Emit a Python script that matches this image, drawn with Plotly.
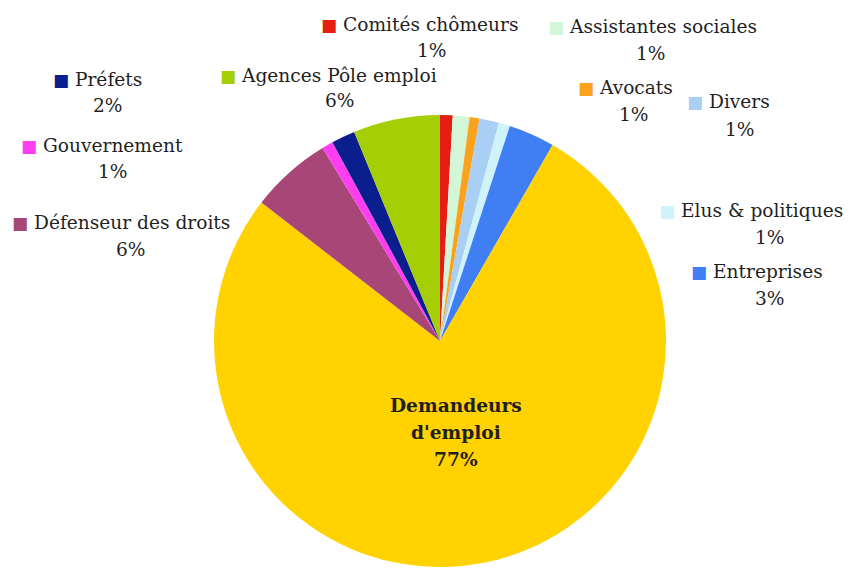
import plotly.graph_objects as go

# the page body has an 8px margin, so the figure is drawn offset by 8px
OFF = 8
W, H = 855 - OFF, 568 - OFF

labels = ["Comités chômeurs", "Assistantes sociales", "Avocats", "Divers",
          "Elus & politiques", "Entreprises", "Demandeurs d'emploi",
          "Défenseur des droits", "Gouvernement", "Préfets", "Agences Pôle emploi"]
values = [0.9, 1.2, 0.7, 1.4, 0.8, 3.3, 77.2, 5.8, 0.8, 1.7, 6.2]
colors = ["#E41E12", "#D3F5D8", "#FAA21B", "#A9CFF5", "#CFF3FA", "#3F7FF3",
          "#FFD200", "#A84677", "#FF3EF2", "#0B1E8E", "#A6CE05"]

# label layout (screen pixel positions): name line anchor (x, y, xanchor), percent centre (x, y)
label_pos = {
    "Comités chômeurs": (420, 24, "center", 432, 51),
    "Assistantes sociales": (652, 27, "center", 651, 53),
    "Avocats": (625, 88, "center", 634, 114),
    "Divers": (728, 102, "center", 740, 129),
    "Elus & politiques": (845, 210, "right", 770, 237),
    "Entreprises": (757, 271, "center", 770, 298),
    "Défenseur des droits": (121, 222, "center", 131, 249),
    "Gouvernement": (102, 145, "center", 113, 171),
    "Préfets": (97, 79, "center", 108, 105),
    "Agences Pôle emploi": (328, 75, "center", 340, 101),
}
center_label_x = 456
center_label_y = [405, 432, 459]

FONT = "DejaVu Serif"
FS = 18.6

def px(x):
    return (x - OFF) / W

def py(y):
    return 1 - (y - OFF) / H

total = sum(values)
pcts = [round(v / total * 100) for v in values]

# pie: centre (440, 341), radius 226 px (screen pixels)
cx, cy, r = 440, 341, 226
fig = go.Figure(go.Pie(
    labels=labels, values=values, sort=False, direction="clockwise", rotation=0,
    marker=dict(colors=colors, line=dict(width=0)),
    textinfo="none", hoverinfo="label+percent", showlegend=False,
    domain=dict(x=[px(cx - r), px(cx + r)], y=[max(0, py(cy + r)), py(cy - r)]),
))

ann = []
for name, col, p in zip(labels, colors, pcts):
    if name not in label_pos:
        continue
    nx, ny, xa, qx, qy = label_pos[name]
    ann.append(dict(
        x=px(nx), y=py(ny), xref="paper", yref="paper", showarrow=False,
        xanchor=xa, yanchor="middle",
        text=f"<span style='color:{col};font-size:17px'>■</span> {name}",
        font=dict(family=FONT, size=FS, color="#1F1F1F"),
    ))
    ann.append(dict(
        x=px(qx), y=py(qy), xref="paper", yref="paper", showarrow=False,
        xanchor="center", yanchor="middle", text=f"{p}%",
        font=dict(family=FONT, size=FS, color="#1F1F1F"),
    ))

i = labels.index("Demandeurs d'emploi")
center_lines = ["Demandeurs", "d'emploi", f"{pcts[i]}%"]
for line, ly in zip(center_lines, center_label_y):
    ann.append(dict(
        x=px(center_label_x), y=py(ly), xref="paper", yref="paper",
        showarrow=False, xanchor="center", yanchor="middle",
        text=f"<b>{line}</b>",
        font=dict(family=FONT, size=FS, color="#1F1F1F"),
    ))

fig.update_layout(
    width=W, height=H, margin=dict(l=0, r=0, t=0, b=0),
    paper_bgcolor="white", plot_bgcolor="white",
    annotations=ann,
)
fig.write_html("out.html")
